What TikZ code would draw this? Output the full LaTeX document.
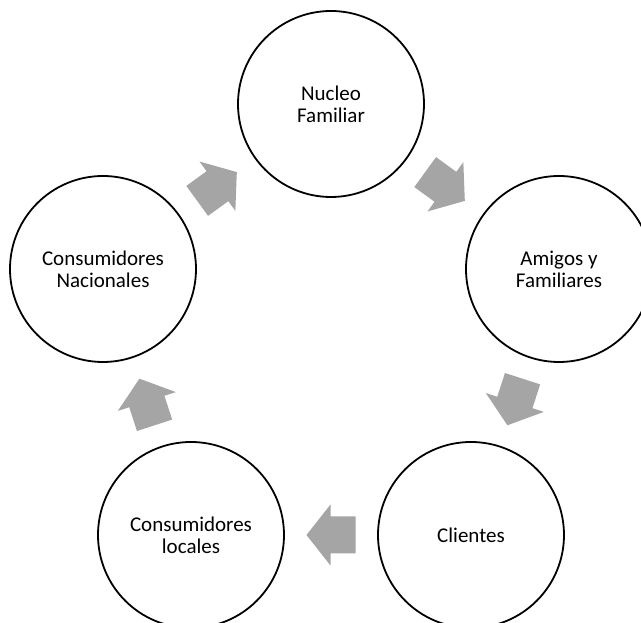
\documentclass[tikz,border=0pt]{standalone}
\usepackage{fontspec}
\setmainfont{Carlito}
\usetikzlibrary{calc}
\definecolor{arrowgray}{HTML}{A5A5A5}
\tikzset{
  circ/.style={circle, draw=black, line width=1.8pt, minimum size=186pt, inner sep=0pt,
    align=center, font=\fontsize{21}{22}\selectfont},
  cyc/.pic={\fill[arrowgray] (-24.5,-18.5) -- (0.5,-18.5) -- (0.5,-30.5) -- (24.5,0) -- (0.5,30.5) -- (0.5,18.5) -- (-24.5,18.5) -- cycle;}
}
\begin{document}
\begin{tikzpicture}[x=1pt,y=1pt]
\useasboundingbox (0,0) rectangle (641,623);
\clip (0,0) rectangle (641,623);
\node[circ] (n1) at (331,519) {Nucleo\\Familiar};
\node[circ] (n2) at (559,354) {Amigos y\\Familiares};
\node[circ] (n3) at (471,88) {Clientes};
\node[circ] (n4) at (191,88) {Consumidores\\locales};
\node[circ] (n5) at (103,354) {Consumidores\\Nacionales};
\coordinate (m12) at ($(n1)!0.5!(n2)$);
\coordinate (m23) at ($(n2)!0.5!(n3)$);
\coordinate (m34) at ($(n3)!0.5!(n4)$);
\coordinate (m45) at ($(n4)!0.5!(n5)$);
\coordinate (m51) at ($(n5)!0.5!(n1)$);
\pic[rotate=-36] at (m12) {cyc};
\pic[rotate=-108] at (m23) {cyc};
\pic[rotate=180] at (m34) {cyc};
\pic[rotate=108] at (m45) {cyc};
\pic[rotate=36] at (m51) {cyc};
\end{tikzpicture}
\end{document}
